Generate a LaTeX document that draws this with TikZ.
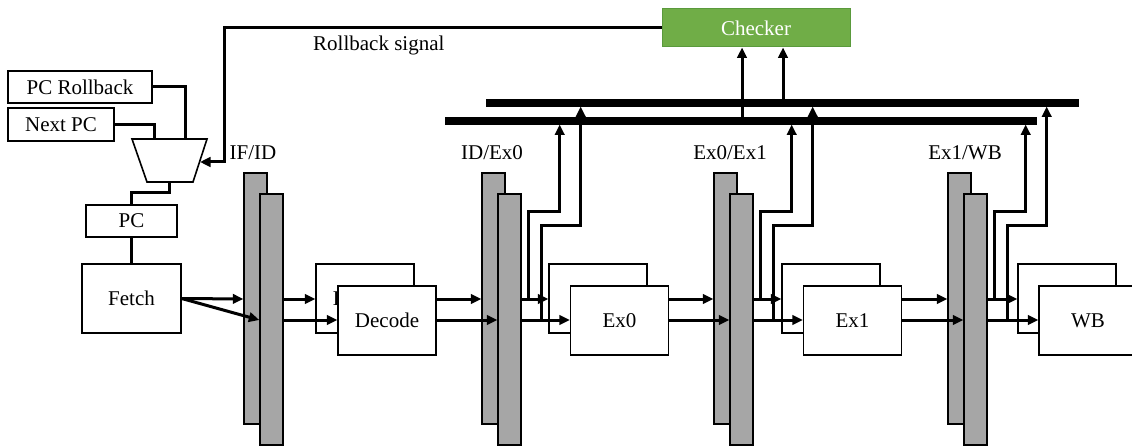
\documentclass[tikz,border=0pt]{standalone}
\usepackage{fontspec}
\setmainfont{Liberation Serif}
\newfontfamily\tnrfont{Liberation Serif}
\usetikzlibrary{arrows.meta,calc}
\definecolor{reggray}{HTML}{A6A6A6}
\definecolor{chkgreen}{HTML}{70AD47}
\definecolor{chkborder}{HTML}{5A9A3C}
\begin{document}
\begin{tikzpicture}[x=1pt,y=-1pt,
  txt/.style={font=\tnrfont\fontsize{21}{25}\selectfont, inner sep=0pt},
  box/.style={txt, draw=black, line width=1.4pt, fill=white, minimum width=98pt, minimum height=69pt},
  small/.style={txt, draw=black, line width=1.4pt, fill=white, minimum height=32pt},
  reg/.style={draw=black, line width=1.4pt, fill=reggray, minimum width=23pt, minimum height=251pt, inner sep=0pt},
  busbar/.style={fill=black, inner sep=0pt, minimum height=7.5pt},
  wire/.style={line width=3pt},
  arr/.style={wire, -{Triangle[length=10.5pt,width=9.5pt]}}
]
\useasboundingbox (0,0) rectangle (1132,446);
\clip (0,0) rectangle (1132,446);

% checker and rollback
\node[txt, draw=chkborder, line width=1pt, fill=chkgreen, text=white, minimum width=188pt, minimum height=38pt] (chk) at (756,28) {Checker};
\node[txt, anchor=base west] (rbl) at (313,51) {Rollback signal};

% buses
\node[busbar, minimum width=592pt] (busL) at (741,121) {};
\node[busbar, minimum width=593pt] (busU) at (782.5,103) {};

% left part
\node[small, minimum width=144pt] (pcr) at (80,87) {PC Rollback};
\node[small, minimum width=106pt, minimum height=33pt] (npc) at (61,124.5) {Next PC};
\node[small, minimum width=91pt] (pc) at (131.5,221) {PC};
\node[box, minimum width=99pt] (fetch) at (131.5,298.5) {Fetch};

\draw[line width=1.6pt, fill=white] (132,139) -- (207,139) -- (193,182) -- (147,182) -- cycle;
\coordinate (muxA) at (185,139);
\coordinate (muxB) at (154,139);
\coordinate (muxO) at (169,182);
\coordinate (muxR) at (200,162);

\draw[wire] (pcr.east) -| (muxA);
\draw[wire] (npc.east) -| (muxB);
\draw[wire] (muxO) -- ++(0,11) -| (pc.north);
\draw[wire] (pc.south) -- (fetch.north);
\draw[arr] (chk.west) -| (224,162) -- (muxR);

% pipeline registers
\foreach \i/\x/\lx/\lab in {1/244/253/IF\slash ID, 2/482/492/ID\slash Ex0, 3/714/730/Ex0\slash Ex1, 4/948/965/Ex1\slash WB}{
  \node[reg] (r\i b) at (\x+11.5,298.5) {};
  \node[reg] (r\i f) at (\x+27.5,319.5) {};
  \node[txt] (l\i) at (\lx,153) {\lab};
}

% stage boxes
\node[box] (s1b) at (365,298.5) {Decode};
\node[box] (s1f) at (387,320.5) {Decode};
\node[box] (s2b) at (598,298.5) {};
\node[box] (s2f) at (619.5,320.5) {Ex0};
\node[box] (s3b) at (831,298.5) {};
\node[box] (s3f) at (852.5,320.5) {Ex1};
\node[box] (s4b) at (1067,298.5) {};
\node[box] (s4f) at (1088,320.5) {WB};

% fetch to IF/ID
\draw[arr] (fetch.east) -- (r1b.west |- 0,299);
\draw[arr] (fetch.east) -- (r1f.west |- 0,320);

% register to stage, stage to register
\foreach \i in {1,2,3,4}{
  \draw[arr] (r\i f.east |- 0,299) -- (s\i b.west |- 0,299);
  \draw[arr] (r\i f.east |- 0,320) -- (s\i f.west |- 0,320);
}
\foreach \i/\j in {1/2,2/3,3/4}{
  \draw[arr] (s\i f.east |- 0,299) -- (r\j b.west |- 0,299);
  \draw[arr] (s\i f.east |- 0,320) -- (r\j f.west |- 0,320);
}

% taps to the buses
\foreach \i in {2,3,4}{
  \draw[arr] ($(r\i f.east |- 0,299)+(7,0)$) -- ++(0,-87) -- ++(31,0) -- ++(0,-87.5);
  \draw[arr] ($(r\i f.east |- 0,320)+(20,0)$) -- ++(0,-94) -- ++(39,0) -- ++(0,-119.5);
}

% buses to checker
\draw[arr] (busL.center -| 742,0) -- (chk.south -| 742,0);
\draw[arr] (busU.center -| 783,0) -- (chk.south -| 783,0);
\end{tikzpicture}
\end{document}
